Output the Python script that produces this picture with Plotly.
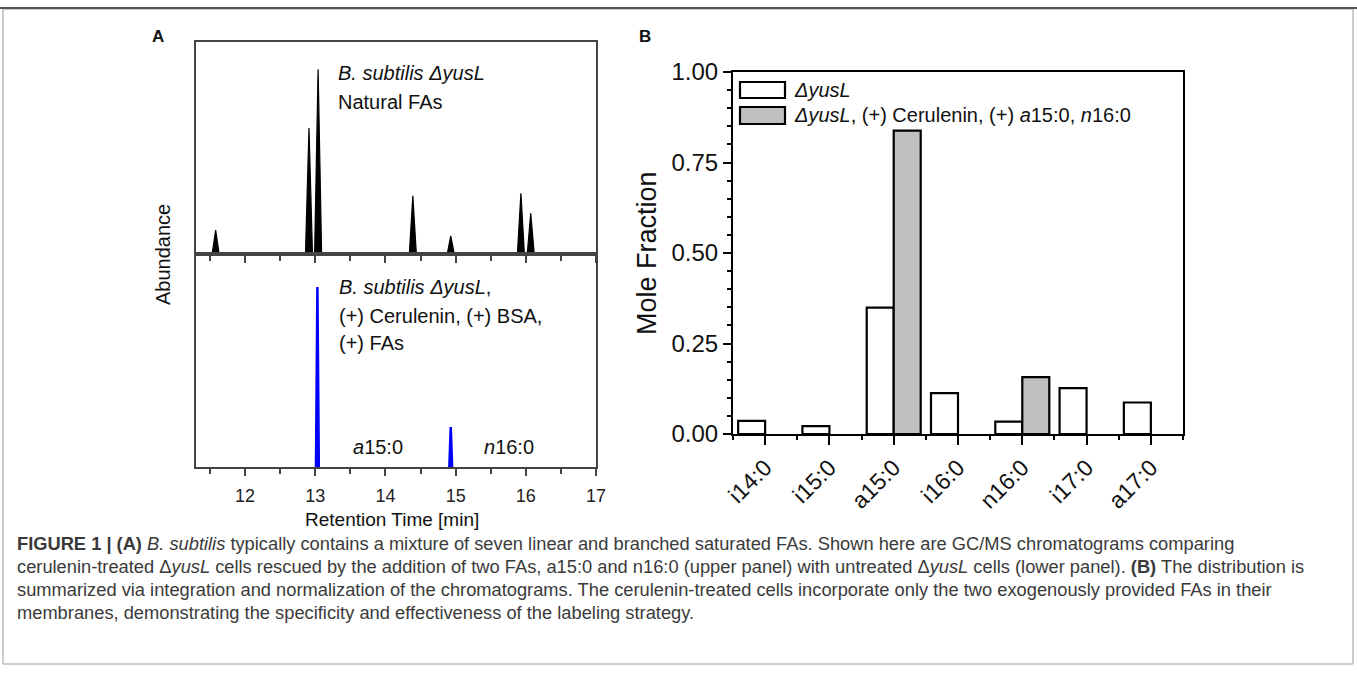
import plotly.graph_objects as go

W, H = 1357, 676

# ---------------- data ----------------
# Panel A: chromatogram peaks (retention time [min], relative abundance %)
natural_rt = [11.58, 12.91, 13.04, 14.39, 14.93, 15.93, 16.07]
natural_ab = [11.3, 59.4, 87.2, 27.4, 8.5, 28.7, 19.2]
rescued_rt = [13.03, 14.93]
rescued_ab = [84.5, 18.8]
a_ticks = [12, 13, 14, 15, 16, 17]

# Panel B: mole fractions
fa_labels = ["i14:0", "i15:0", "a15:0", "i16:0", "n16:0", "i17:0", "a17:0"]
mf_untreated = [0.036, 0.022, 0.349, 0.113, 0.034, 0.127, 0.087]
mf_treated = [None, None, 0.838, None, 0.157, None, None]
b_yticks = [0.0, 0.25, 0.5, 0.75, 1.0]


def px(x):
    return x / W


def py(y):
    return 1 - y / H


def peak_path(rts, abs_, hw):
    xs, ys = [], []
    for rt, a in zip(rts, abs_):
        xs += [rt - hw, rt, rt + hw, None]
        ys += [0, a, 0, None]
    return xs, ys


FONT = "Liberation Sans, Arial, sans-serif"
AX_A = "#444444"

fig = go.Figure()

xs, ys = peak_path(natural_rt, natural_ab, 0.05)
fig.add_trace(go.Scatter(x=xs, y=ys, mode="lines", fill="toself",
                         fillcolor="black", line=dict(color="black", width=1.2),
                         xaxis="x", yaxis="y", showlegend=False, hoverinfo="skip"))
xs, ys = peak_path(rescued_rt, rescued_ab, 0.02)
fig.add_trace(go.Scatter(x=xs, y=ys, mode="lines", fill="toself",
                         fillcolor="#0000ff", line=dict(color="#0000ff", width=2.5),
                         xaxis="x2", yaxis="y2", showlegend=False, hoverinfo="skip"))

xpos = list(range(len(fa_labels)))
fig.add_trace(go.Bar(x=xpos, y=mf_untreated, name="ΔyusL",
                     marker=dict(color="white", line=dict(color="black", width=2.2)),
                     xaxis="x3", yaxis="y3", showlegend=False))
fig.add_trace(go.Bar(x=xpos, y=mf_treated, name="ΔyusL, (+) Cerulenin, (+) a15:0, n16:0",
                     marker=dict(color="#c0c0c0", line=dict(color="black", width=2.2)),
                     xaxis="x3", yaxis="y3", showlegend=False))

a_x_common = dict(range=[11.3, 17], showline=True, mirror=True, linecolor=AX_A,
                  linewidth=1.5, ticks="outside", ticklen=7, tickwidth=1.5,
                  tickcolor=AX_A, tickmode="array", tickvals=a_ticks,
                  minor=dict(dtick=0.5, tick0=11.5, ticks="outside", ticklen=5,
                             tickwidth=1.5, tickcolor=AX_A),
                  showgrid=False, zeroline=False, fixedrange=True, automargin=False)
a_y_common = dict(range=[0, 100], showline=True, mirror=True, linecolor=AX_A,
                  linewidth=1.5, ticks="", showticklabels=False, showgrid=False,
                  zeroline=False, fixedrange=True, automargin=False)

fig.update_layout(
    width=W, height=H, autosize=False,
    margin=dict(l=0, r=0, t=0, b=0, pad=0, autoexpand=False),
    paper_bgcolor="white", plot_bgcolor="white",
    font=dict(family=FONT, color="#111"),
    showlegend=False,
    barmode="group", bargap=0.16, bargroupgap=0,
    xaxis=dict(domain=[px(196), px(596)], anchor="y", showticklabels=False, **a_x_common),
    yaxis=dict(domain=[py(254), py(42)], anchor="x", **a_y_common),
    xaxis2=dict(domain=[px(196), px(596)], anchor="y2", showticklabels=True,
                tickfont=dict(size=18, color="#222"), ticklabelstandoff=5, **a_x_common),
    yaxis2=dict(domain=[py(467), py(254)], anchor="x2", **a_y_common),
    xaxis3=dict(domain=[px(733), px(1183)], anchor="y3", range=[-0.5, 6.5],
                tickmode="array", tickvals=xpos, ticktext=fa_labels, tickangle=-45,
                tickfont=dict(size=23, color="#111"),
                showline=True, mirror=True, linecolor="black", linewidth=2,
                ticks="outside", ticklen=9, tickwidth=2, tickcolor="black",
                minor=dict(tick0=0.5, dtick=1, ticks="outside", ticklen=4,
                           tickwidth=2, tickcolor="black"),
                showgrid=False, zeroline=False, fixedrange=True, automargin=False),
    yaxis3=dict(domain=[py(434), py(72)], anchor="x3", range=[0, 1],
                tickmode="array", tickvals=b_yticks, tickformat=".2f",
                tickfont=dict(size=24, color="#111"),
                showline=True, mirror=True, linecolor="black", linewidth=2,
                ticks="outside", ticklen=8, tickwidth=2, tickcolor="black",
                minor=dict(dtick=0.05, ticks="outside", ticklen=4, tickwidth=1.5,
                           tickcolor="black"),
                showgrid=False, zeroline=False, fixedrange=True, automargin=False),
)

ann = []


def text(x, y, t, size=20, xa="left", ya="middle", angle=0, color="#111", family=FONT):
    ann.append(dict(x=px(x), y=py(y), xref="paper", yref="paper", text=t,
                    showarrow=False, xanchor=xa, yanchor=ya, textangle=angle,
                    font=dict(size=size, color=color, family=family)))


# panel letters
text(150, 36, "<b>A</b>", size=17)
text(637, 36, "<b>B</b>", size=17)

# panel A texts
text(336, 73, "<i>B. subtilis ΔyusL</i>")
text(336, 102, "Natural FAs")
text(337, 287, "<i>B. subtilis ΔyusL</i>,")
text(337, 316, "(+) Cerulenin, (+) BSA,")
text(337, 343, "(+) FAs")
text(378, 447, "<i>a</i>15:0", xa="center")
text(509, 447, "<i>n</i>16:0", xa="center")
text(163, 255, "Abundance", xa="center", angle=-90)
text(392, 519, "Retention Time [min]", size=19, xa="center")

# panel B axis title
text(647, 253, "Mole Fraction", size=27, xa="center", angle=-90)

# panel B legend (manual swatches)
shapes = []
shapes.append(dict(type="rect", xref="paper", yref="paper", x0=px(740), x1=px(785),
                   y0=py(98), y1=py(82), fillcolor="white",
                   line=dict(color="black", width=2.2)))
shapes.append(dict(type="rect", xref="paper", yref="paper", x0=px(740), x1=px(785),
                   y0=py(124), y1=py(107), fillcolor="#c0c0c0",
                   line=dict(color="black", width=2.2)))
text(792, 90, "<i>ΔyusL</i>")
text(792, 115, "<i>ΔyusL</i>, (+) Cerulenin, (+) <i>a</i>15:0, <i>n</i>16:0")

# caption
CAP = "#3a3a3a"
cap_lines = [
    "<b>FIGURE 1 | (A)</b> <i>B. subtilis</i> typically contains a mixture of seven linear and branched saturated FAs. Shown here are GC/MS chromatograms comparing",
    "cerulenin-treated Δ<i>yusL</i> cells rescued by the addition of two FAs, a15:0 and n16:0 (upper panel) with untreated Δ<i>yusL</i> cells (lower panel). <b>(B)</b> The distribution is",
    "summarized via integration and normalization of the chromatograms. The cerulenin-treated cells incorporate only the two exogenously provided FAs in their",
    "membranes, demonstrating the specificity and effectiveness of the labeling strategy.",
]
for i, line in enumerate(cap_lines):
    text(15, 543 + 23 * i, line, size=18.3, color=CAP)

# frame
shapes.append(dict(type="rect", xref="paper", yref="paper", x0=px(3), x1=px(1353),
                   y0=py(664), y1=py(9), line=dict(color="#9a9a9a", width=1)))
shapes.append(dict(type="line", xref="paper", yref="paper", x0=0, x1=1,
                   y0=py(8), y1=py(8), line=dict(color="#555555", width=2)))

fig.update_layout(annotations=ann, shapes=shapes)

fig.write_html("out.html", config={"responsive": False, "displayModeBar": False},
               post_script="document.body.style.margin='0';")
